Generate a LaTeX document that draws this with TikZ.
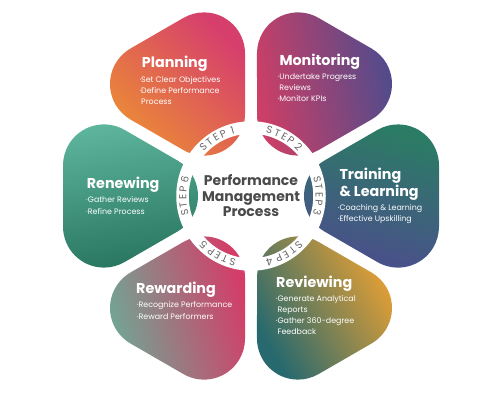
\documentclass[tikz,border=0pt]{standalone}
\usepackage{fontspec}
\setmainfont{Poppins}
\usetikzlibrary{calc}
\definecolor{planA}{HTML}{D63F6C}
\definecolor{planB}{HTML}{EC8E34}
\definecolor{monA}{HTML}{4A4C8E}
\definecolor{monB}{HTML}{CC3F66}
\definecolor{trA}{HTML}{2B7C64}
\definecolor{trB}{HTML}{4C4C8E}
\definecolor{rvA}{HTML}{EDA232}
\definecolor{rvB}{HTML}{27696E}
\definecolor{rwA}{HTML}{D43D68}
\definecolor{rwB}{HTML}{6DAA96}
\definecolor{rnA}{HTML}{5EB59D}
\definecolor{rnB}{HTML}{28755F}
\definecolor{ctrgray}{HTML}{4A4A4A}
\definecolor{stepgray}{HTML}{666666}
\begin{document}
\begin{tikzpicture}[x=1pt,y=-1pt,
  ttl/.style={text=white, font=\fontsize{14.3}{16}\selectfont\bfseries, anchor=base west, inner sep=0pt},
  bul/.style={text=white, font=\fontsize{7.9}{9}\selectfont, anchor=base west, inner sep=0pt},
  ctr/.style={text=ctrgray, font=\fontsize{14}{16}\selectfont\bfseries, anchor=base, inner sep=0pt},
  stp/.style={text=stepgray, font=\fontsize{10.2}{11}\selectfont, inner sep=0pt, anchor=center}]
\useasboundingbox (0,0) rectangle (500,400);
\coordinate (C) at (251,196);
\begin{scope}[shift={(C)}, y=1pt]
  \foreach \a/\ca/\cb/\sa in {120/planA/planB/-45, 60/monA/monB/-80, 0/trA/trB/-15, -60/rvA/rvB/-60, -120/rwA/rwB/-75, 180/rnA/rnB/10}{
    \shade[top color=\ca, bottom color=\cb, shading angle=\sa]
      ($(\a:94)+(\a+240:41)$) -- ($(\a-11.76:150.15)+(\a+240:41)$)
      arc[start angle=\a+240, end angle=\a+360, radius=41]
      -- ($(\a+11.76:150.15)+(\a:41)$)
      arc[start angle=\a, end angle=\a+120, radius=41]
      -- ($(\a:94)+(\a+120:41)$)
      arc[start angle=\a+120, end angle=\a+240, radius=41] -- cycle;
  }
  \draw[white, line width=12.5pt] (0,0) circle[radius=68.5];
  \foreach \ph/\lab [count=\k] in {120/1, 60/2, 0/3, -60/4, -120/5, 180/6}{
    \foreach \ch/\off [count=\i] in {S/14.2, T/7.4, E/0.8, P/-5.8, \lab/-14.2}{
      \node[stp, rotate=\ph+\off-90] (st\k-\i) at (\ph+\off:68.3) {\ch};
    }
  }
\end{scope}
% centre
\node[ctr] (c1) at (251,185) {Performance};
\node[ctr] (c2) at (251,201) {Management};
\node[ctr] (c3) at (251,216.7) {Process};
% Planning
\node[ttl] (pl) at (141.7,67.8) {Planning};
\node[bul] (pl1) at (139.3,82.5) {·Set Clear Objectives};
\node[bul] (pl2) at (139.3,93.3) {·Define Performance};
\node[bul] (pl3) at (139.3,104) {\phantom{·}Process};
% Monitoring
\node[ttl] (mo) at (279.3,65) {Monitoring};
\node[bul] (mo1) at (277.5,79) {·Undertake Progress};
\node[bul] (mo2) at (277.5,90) {\phantom{·}Reviews};
\node[bul] (mo3) at (277.5,101.7) {·Monitor KPIs};
% Training
\node[ttl] (tr) at (339.3,179.3) {Training};
\node[ttl] (tr0) at (339.3,196) {\& Learning};
\node[bul] (tr1) at (337.7,210.7) {·Coaching \& Learning};
\node[bul] (tr2) at (337.7,221.5) {·Effective Upskilling};
% Renewing
\node[ttl] (rn) at (86.7,188.3) {Renewing};
\node[bul] (rn1) at (86,202.7) {·Gather Reviews};
\node[bul] (rn2) at (86,214) {·Refine Process};
% Rewarding
\node[ttl] (rw) at (136,293.3) {Rewarding};
\node[bul] (rw1) at (136.7,307.7) {·Recognize Performance};
\node[bul] (rw2) at (136.7,319) {·Reward Performers};
% Reviewing
\node[ttl] (rv) at (276,287.3) {Reviewing};
\node[bul] (rv1) at (275.7,301.7) {·Generate Analytical};
\node[bul] (rv2) at (275.7,312.7) {\phantom{·}Reports};
\node[bul] (rv3) at (275.7,323.3) {·Gather 360-degree};
\node[bul] (rv4) at (275.7,334.3) {\phantom{·}Feedback};
\end{tikzpicture}
\end{document}
